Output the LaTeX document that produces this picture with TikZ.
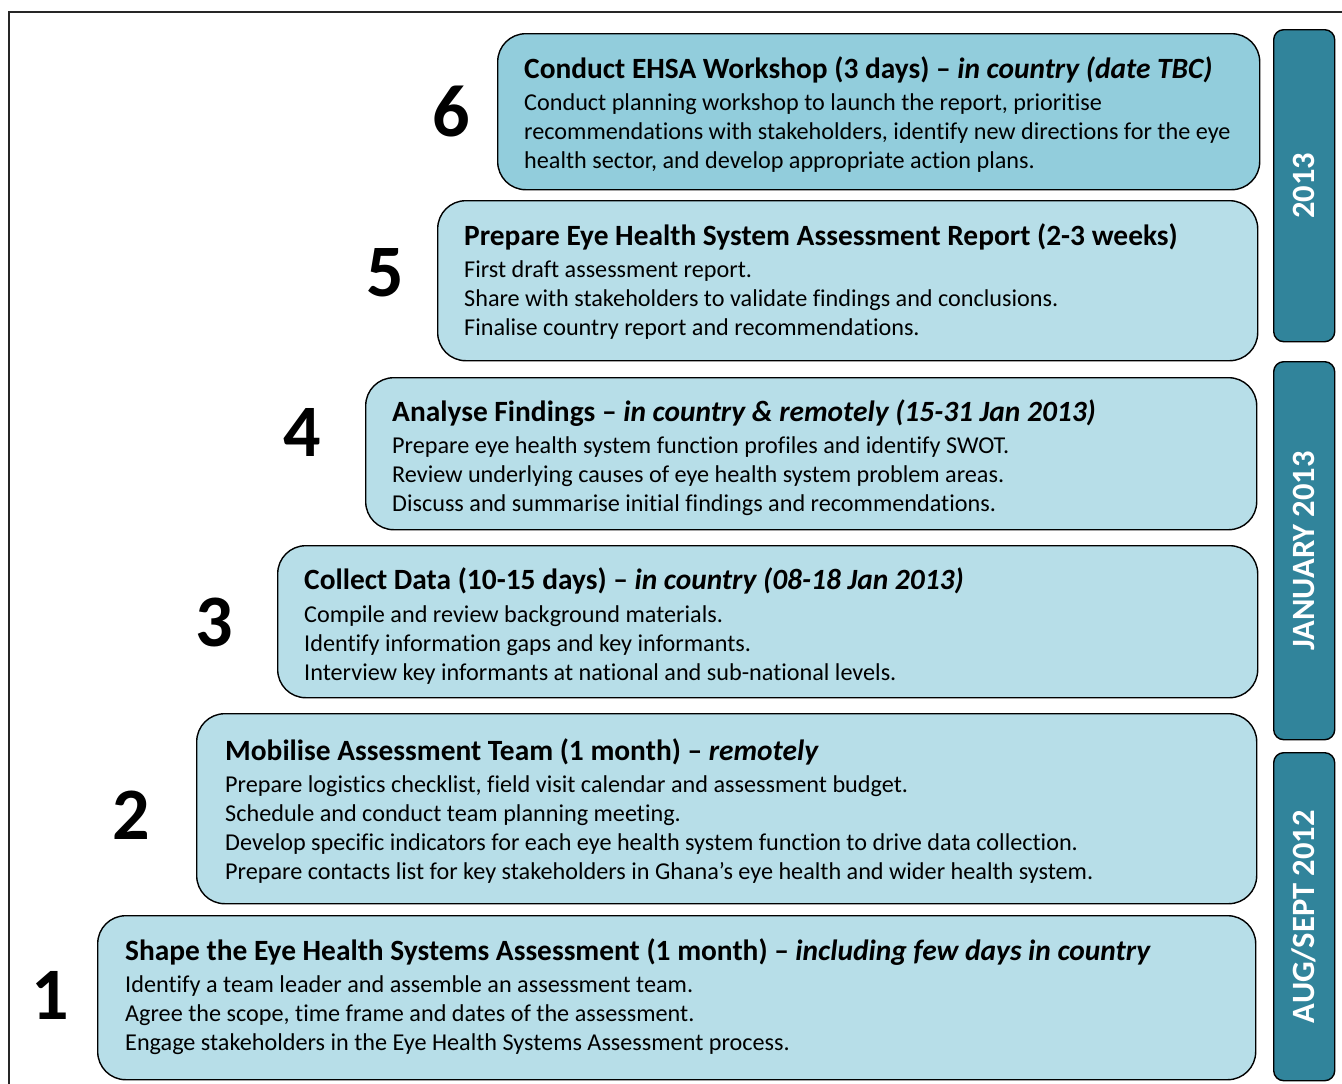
\documentclass[tikz,border=0pt]{standalone}
\usepackage{fontspec}
\setmainfont[Ligatures=NoCommon]{Carlito}
\definecolor{stagelight}{HTML}{B7DEE8}
\definecolor{stagedark}{HTML}{92CDDC}
\definecolor{periodbar}{HTML}{31849B}
\tikzset{
	stagebox/.style={draw=black, line width=1.4pt, rounded corners=28pt, fill=stagelight, anchor=north west, inner sep=0pt},
	stagetitle/.style={anchor=base west, inner sep=0pt, font=\fontsize{29.4}{29}\selectfont\bfseries},
	stagebody/.style={anchor=north west, inner sep=0pt, align=left, font=\fontsize{24.2}{29.3}\selectfont},
	stagenum/.style={inner sep=0pt, font=\fontsize{74}{74}\selectfont\bfseries},
	periodbox/.style={draw=black, line width=1.4pt, rounded corners=10pt, fill=periodbar, anchor=north west, minimum width=61pt, inner sep=0pt},
	periodtext/.style={inner sep=0pt, text=white, rotate=90, font=\fontsize{32.5}{32.5}\selectfont\bfseries}
}
\begin{document}
\begin{tikzpicture}[x=1pt,y=-1pt]
	\useasboundingbox (0,0) rectangle (1342,1084);
	\clip (0,0) rectangle (1342,1084);
	% outer frame
	\draw[line width=1.5pt, black!85] (9,1100) -- (9,12) -- (1360,12);
	% stage 6
	\node[stagebox, fill=stagedark, minimum width=762pt, minimum height=156pt] (s6) at (497,33) {};
	\node[stagenum] (n6) at (451,112) {6};
	\node[stagetitle] (t6) at (524,78) {Conduct EHSA Workshop (3 days) -- \textit{in country (date TBC)}};
	\node[stagebody] (b6) at (524,93) {Conduct planning workshop to launch the report, prioritise\\recommendations with stakeholders, identify new directions for the eye\\health sector, and develop appropriate action plans.};
	% stage 5
	\node[stagebox, minimum width=820pt, minimum height=160pt] (s5) at (437,200) {};
	\node[stagenum] (n5) at (385,273) {5};
	\node[stagetitle] (t5) at (464,245) {Prepare Eye Health System Assessment Report (2-3 weeks)};
	\node[stagebody] (b5) at (464,260) {First draft assessment report.\\Share with stakeholders to validate findings and conclusions.\\Finalise country report and recommendations.};
	% stage 4
	\node[stagebox, minimum width=891pt, minimum height=152pt] (s4) at (365,377) {};
	\node[stagenum] (n4) at (302,432) {4};
	\node[stagetitle] (t4) at (392,421) {Analyse Findings -- \textit{in country \& remotely (15-31 Jan 2013)}};
	\node[stagebody] (b4) at (392,436) {Prepare eye health system function profiles and identify SWOT.\\Review underlying causes of eye health system problem areas.\\Discuss and summarise initial findings and recommendations.};
	% stage 3
	\node[stagebox, minimum width=980pt, minimum height=152pt] (s3) at (277,545) {};
	\node[stagenum] (n3) at (214,622) {3};
	\node[stagetitle] (t3) at (304,589) {Collect Data (10-15 days) -- \textit{in country (08-18 Jan 2013)}};
	\node[stagebody] (b3) at (304,605) {Compile and review background materials.\\Identify information gaps and key informants.\\Interview key informants at national and sub-national levels.};
	% stage 2
	\node[stagebox, minimum width=1060pt, minimum height=190pt] (s2) at (196,713) {};
	\node[stagenum] (n2) at (131,815) {2};
	\node[stagetitle] (t2) at (225,760) {Mobilise Assessment Team (1 month) -- \textit{remotely}};
	\node[stagebody] (b2) at (225,775) {Prepare logistics checklist, field visit calendar and assessment budget.\\Schedule and conduct team planning meeting.\\Develop specific indicators for each eye health system function to drive data collection.\\Prepare contacts list for key stakeholders in Ghana’s eye health and wider health system.};
	% stage 1
	\node[stagebox, minimum width=1158pt, minimum height=164pt] (s1) at (97,915) {};
	\node[stagenum] (n1) at (50,995) {1};
	\node[stagetitle] (t1) at (125,960) {Shape the Eye Health Systems Assessment (1 month) -- \textit{including few days in country}};
	\node[stagebody] (b1) at (125,975) {Identify a team leader and assemble an assessment team.\\Agree the scope, time frame and dates of the assessment.\\Engage stakeholders in the Eye Health Systems Assessment process.};
	% period bars
	\node[periodbox, minimum height=312pt] (p3) at (1273,29) {};
	\node[periodtext] (q3) at (p3.center) {2013};
	\node[periodbox, minimum height=378pt] (p2) at (1273,361) {};
	\node[periodtext] (q2) at (p2.center) {JANUARY 2013};
	\node[periodbox, minimum height=328pt] (p1) at (1273,752) {};
	\node[periodtext] (q1) at (p1.center) {AUG/SEPT 2012};
\end{tikzpicture}
\end{document}
